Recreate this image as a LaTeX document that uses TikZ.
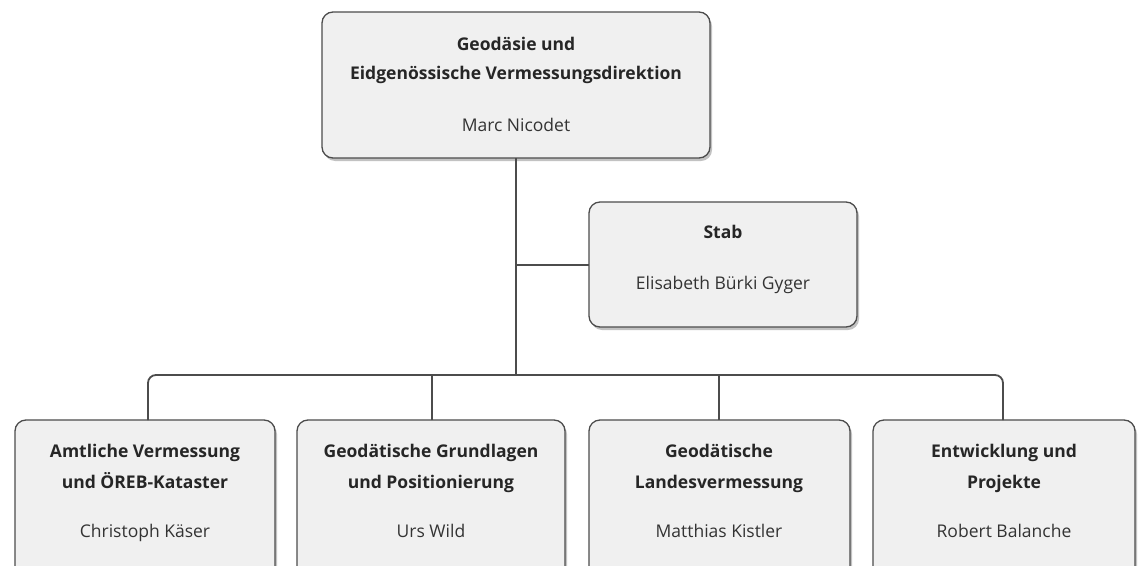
\documentclass[tikz,border=0pt]{standalone}
\usepackage{fontspec}
\setmainfont{Open Sans}
\usetikzlibrary{shadows}
\begin{document}
\begin{tikzpicture}[x=1pt,y=-1pt,
  orgbox/.style={draw=black!70, line width=1.3pt, fill=black!6, rounded corners=11pt,
    drop shadow={shadow xshift=2pt, shadow yshift=-3pt, fill=black!40, opacity=0.6},
    inner sep=0pt},
  conn/.style={draw=black!70, line width=1.8pt},
  ttl/.style={anchor=base, inner sep=0pt, font=\fontsize{17.5}{17.5}\selectfont\bfseries, text=black!85},
  nm/.style={anchor=base, inner sep=0pt, font=\fontsize{17.5}{17.5}\selectfont, text=black!80}]
\clip (0,0) rectangle (1143,565);
% boxes
\path[orgbox] (322,12) rectangle (710,158);
\coordinate (top) at (516,158);
\node[ttl] (t1) at (516,50) {Geodäsie und};
\node[ttl] (t2) at (516,79) {Eidgenössische Vermessungsdirektion};
\node[nm] (t3) at (516,131) {Marc Nicodet};

\path[orgbox] (589,202) rectangle (857,327);
\coordinate (stab) at (589,265);
\node[ttl] (s1) at (723,238) {Stab};
\node[nm] (s2) at (723,289) {Elisabeth Bürki Gyger};

\path[orgbox] (15,420) rectangle (275,590);
\path[orgbox] (297,420) rectangle (565,590);
\path[orgbox] (589,420) rectangle (850,590);
\path[orgbox] (873,420) rectangle (1135,590);
\coordinate (b1) at (148,420);
\coordinate (b2) at (432,420);
\coordinate (b3) at (719,420);
\coordinate (b4) at (1003,420);

\node[ttl] (a1) at (145,457) {Amtliche Vermessung};
\node[ttl] (a2) at (145,488) {und ÖREB-Kataster};
\node[nm] (a3) at (145,537) {Christoph Käser};

\node[ttl] (g1) at (431,457) {Geodätische Grundlagen};
\node[ttl] (g2) at (431,488) {und Positionierung};
\node[nm] (g3) at (431,537) {Urs Wild};

\node[ttl] (l1) at (719,457) {Geodätische};
\node[ttl] (l2) at (719,488) {Landesvermessung};
\node[nm] (l3) at (719,537) {Matthias Kistler};

\node[ttl] (e1) at (1004,457) {Entwicklung und};
\node[ttl] (e2) at (1004,488) {Projekte};
\node[nm] (e3) at (1004,537) {Robert Balanche};

% connectors
\coordinate (bus) at (516,375);
\draw[conn] (top) -- (bus);
\draw[conn] (top |- stab) -- (stab);
\draw[conn, rounded corners=8pt] (b1) |- (bus) -| (b4);
\draw[conn] (b2) -- (b2 |- bus);
\draw[conn] (b3) -- (b3 |- bus);
\end{tikzpicture}
\end{document}
